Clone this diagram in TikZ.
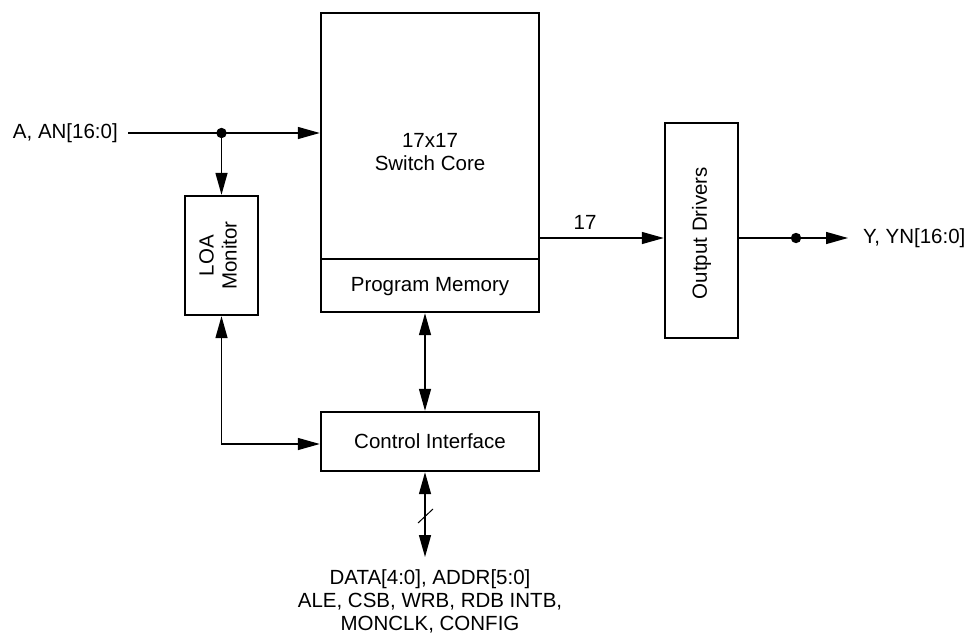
\documentclass[tikz,border=0pt]{standalone}
\usepackage{fontspec}
\setmainfont{Liberation Sans}
\usetikzlibrary{arrows.meta}
\tikzset{
  box/.style={draw, line width=2.4pt, inner sep=0pt},
  conn/.style={line width=1.4pt},
  arr/.style={conn, -{Triangle[length=22pt,width=12pt]}},
  darr/.style={conn, {Triangle[length=22pt,width=12pt]}-{Triangle[length=22pt,width=12pt]}},
  lbl/.style={font=\fontsize{20.5}{23}\selectfont, inner sep=0pt, align=center},
}
\begin{document}
\begin{tikzpicture}[x=1pt,y=-1pt]
\useasboundingbox (0,0) rectangle (968,642);
% blocks
\node[box, minimum width=218pt, minimum height=299pt] (core) at (430,162.5) {};
\node[box, minimum width=218pt, minimum height=59pt] (ci) at (430,441.5) {};
\node[box, minimum width=73pt, minimum height=119pt] (loa) at (221.5,255.5) {};
\node[box, minimum width=73pt, minimum height=215pt] (od) at (701.5,230.5) {};
\coordinate (dl) at (321,259);
\coordinate (dr) at (539,259);
\draw[line width=1.2pt] (dl) -- (dr);
% texts
\node[lbl] (coretxt) at (430,152) {17x17\\Switch Core};
\node[lbl] (pmtxt) at (430,287) {Program Memory};
\node[lbl] (citxt) at (ci) {Control Interface};
\node[lbl, rotate=90] (loatxt) at (218,255.5) {LOA\\Monitor};
\node[lbl, rotate=90] (odtxt) at (701.5,233) {Output Drivers};
\node[lbl, anchor=east] (inA) at (118,133) {A, AN[16:0]};
\node[lbl, anchor=west] (outY) at (863,238) {Y, YN[16:0]};
\node[lbl, text depth=0pt] (bus) at (430,600) {DATA[4:0], ADDR[5:0]\\ALE, CSB, WRB, RDB INTB,\\MONCLK, CONFIG};
% input
\coordinate (inS) at (128,133);
\coordinate (j) at (221.5,133);
\draw[conn] (inS) -- (j);
\draw[arr] (j) -- (j -| core.west);
\draw[arr] (j) -- (loa.north);
\fill (j) circle (5.2);
% core to output drivers
\coordinate (p17) at (539,238);
\draw[arr] (p17) -- (p17 -| od.west);
\node[lbl] (n17) at (585,222) {17};
% output
\coordinate (o1) at (738,238);
\coordinate (od2) at (796,238);
\coordinate (o3) at (848,238);
\draw[conn] (o1) -- (od2);
\draw[arr] (od2) -- (o3);
\fill (od2) circle (5.2);
% program memory <-> control interface
\draw[darr] ([xshift=-5pt]core.south) -- ([xshift=-5pt]ci.north);
% LOA <-> control interface
\draw[darr] (loa.south) |- ([yshift=-2.5pt]ci.west);
% control bus
\coordinate (busend) at (425,557);
\draw[darr] ([xshift=-5pt]ci.south) -- (busend);
\coordinate (s1) at (418,523);
\coordinate (s2) at (433,509);
\draw[line width=1pt] (s1) -- (s2);
\end{tikzpicture}
\end{document}
